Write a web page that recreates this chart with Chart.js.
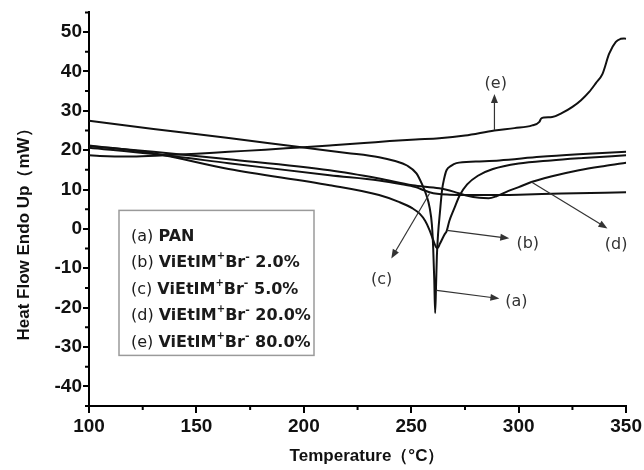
<!DOCTYPE html>
<html>
<head>
<meta charset="utf-8">
<script src="https://cdn.jsdelivr.net/npm/chart.js@4.4.1/dist/chart.umd.min.js"></script>
<style>
  html, body { margin: 0; padding: 0; background: #fff; }
  #marco { width: 644px; height: 470px; }
</style>
</head>
<body>
<div id="marco"><canvas id="dsc" width="644" height="470"></canvas></div>
<script>
// Curvas DSC (temperatura en °C, flujo en mW)
const tempA = [100, 130, 165, 198, 220, 235, 242, 248, 252.4, 255.2, 257, 258.5, 259.6, 260.2, 260.7, 261.1, 261.5, 261.9, 262.5, 263.3, 264.3, 265.3, 266.4, 268.5, 271, 280, 291, 310, 330, 350];
const flowA = [27.5, 25.4, 23.1, 20.8, 19.3, 18.2, 17.3, 16.1, 14.1, 11.1, 8.6, 5.5, 1.0, -5, -13, -21.4, -15, -7, -1, 4, 9.8, 12.8, 14.9, 16.0, 16.7, 17.1, 17.4, 18.3, 19.0, 19.6];

const tempB = [100, 130, 165, 212, 235, 244.5, 250.6, 254, 256.5, 258.5, 260.3, 261.5, 262.2, 263.3, 265.4, 266.5, 267.7, 270, 272.5, 276, 281, 288, 300, 315, 330, 350];
const flowB = [21.2, 19.2, 15.2, 11.1, 8.6, 6.8, 5.2, 3.8, 2.0, -0.3, -3, -4.6, -4.9, -3.8, -1.5, -0.5, 2.0, 5.2, 8.5, 11.3, 13.5, 15.2, 16.6, 17.4, 18.0, 18.7];

const tempC = [100, 130, 165, 212, 235, 245, 252, 256, 258.5, 262, 268, 275, 285, 300, 320, 350];
const flowC = [20.6, 19.0, 16.7, 13.6, 12.3, 11.4, 10.6, 9.8, 9.3, 8.9, 8.7, 8.6, 8.6, 8.7, 9.0, 9.3];

const tempD = [100, 130, 165, 212, 235, 250.6, 263, 270, 275.6, 281.7, 286, 289.6, 295, 300, 305.9, 315, 328, 340, 350];
const flowD = [21.0, 19.6, 17.7, 14.9, 12.8, 11.1, 10.3, 9.4, 8.5, 7.9, 7.8, 8.3, 9.6, 10.6, 11.9, 13.3, 14.9, 16.0, 16.8];

const tempE = [100, 105, 112, 120, 135, 150, 165, 182, 198, 212, 228, 240, 252, 263, 275, 288.7, 298, 306.3, 309.6, 310.4, 311.9, 315.6, 320, 325, 329, 332.8, 336, 339, 342.1, 345.2, 347.5, 349, 350];
const flowE = [18.7, 18.5, 18.4, 18.4, 18.7, 19.1, 19.6, 20.1, 20.7, 21.2, 21.8, 22.3, 22.7, 23.0, 23.7, 25.0, 25.6, 26.3, 27.2, 28.0, 28.3, 28.4, 29.4, 31.0, 32.7, 34.8, 37.1, 39.4, 44.5, 47.5, 48.3, 48.4, 48.3];

// Etiquetas de los ejes
const xLabels = [100, 150, 200, 250, 300, 350];
const yLabels = [-40, -30, -20, -10, 0, 10, 20, 30, 40, 50];

// Leyenda: (x) + nombre; la concentración va junto al catión
const serieTags = ['(a)', '(b)', '(c)', '(d)', '(e)'];
const serieConc = [null, '2.0%', '5.0%', '20.0%', '80.0%'];

// Flechas que señalan cada curva (coordenadas en datos)
const flechaDesde = [[261.8, -15.6], [266.6, -0.4], [258.5, 9.0], [305.9, 11.9], [288.7, 25.1]];
const flechaHasta = [[291.0, -17.7], [295.6, -2.4], [240.7, -7.5], [341.3, 0.1], [288.7, 34.3]];
const flechaTexto = [[298.9, -18.5], [304.2, -3.7], [236.2, -13.0], [345.3, -4.1], [289.3, 36.9]];

const FUENTE = '"DejaVu Sans", sans-serif';
const FUENTE_EJES = '"Liberation Sans", Arial, sans-serif';
const NEGRO = '#111';

function puntos(xs, ys) {
  return xs.map((x, i) => ({ x: x, y: ys[i] }));
}

function serie(nombre, xs, ys) {
  return {
    label: nombre,
    data: puntos(xs, ys),
    borderColor: NEGRO,
    borderWidth: 2,
    pointRadius: 0,
    cubicInterpolationMode: 'monotone',
    fill: false
  };
}

// Marcas menores, flechas con etiqueta y el recuadro de la leyenda
const extras = {
  id: 'extras',
  afterDraw(chart) {
    const { ctx, chartArea: area, scales: { x, y } } = chart;
    ctx.save();

    // marcas menores
    ctx.strokeStyle = '#000';
    ctx.lineWidth = 2;
    ctx.beginPath();
    for (let v = 125; v < 350; v += 50) {
      const px = x.getPixelForValue(v);
      ctx.moveTo(px, area.bottom);
      ctx.lineTo(px, area.bottom + 4);
    }
    for (let v = -45; v <= 55; v += 10) {
      const py = y.getPixelForValue(v);
      ctx.moveTo(area.left - 4, py);
      ctx.lineTo(area.left, py);
    }
    ctx.stroke();

    // flechas
    ctx.strokeStyle = '#333';
    ctx.fillStyle = '#333';
    ctx.lineWidth = 1.2;
    flechaDesde.forEach((desde, i) => {
      const x0 = x.getPixelForValue(desde[0]), y0 = y.getPixelForValue(desde[1]);
      const x1 = x.getPixelForValue(flechaHasta[i][0]), y1 = y.getPixelForValue(flechaHasta[i][1]);
      const ang = Math.atan2(y1 - y0, x1 - x0);
      ctx.beginPath();
      ctx.moveTo(x0, y0);
      ctx.lineTo(x1 - 6 * Math.cos(ang), y1 - 6 * Math.sin(ang));
      ctx.stroke();
      ctx.beginPath();
      ctx.moveTo(x1, y1);
      ctx.lineTo(x1 - 9 * Math.cos(ang) + 3.5 * Math.sin(ang), y1 - 9 * Math.sin(ang) - 3.5 * Math.cos(ang));
      ctx.lineTo(x1 - 9 * Math.cos(ang) - 3.5 * Math.sin(ang), y1 - 9 * Math.sin(ang) + 3.5 * Math.cos(ang));
      ctx.closePath();
      ctx.fill();

      ctx.font = '16px ' + FUENTE;
      ctx.textAlign = 'center';
      ctx.textBaseline = 'middle';
      ctx.fillText(serieTags[i], x.getPixelForValue(flechaTexto[i][0]), y.getPixelForValue(flechaTexto[i][1]));
    });

    // leyenda
    const caja = { left: area.left + 30, top: area.top + 198, width: 195, height: 145 };
    ctx.fillStyle = '#fff';
    ctx.fillRect(caja.left, caja.top, caja.width, caja.height);
    ctx.strokeStyle = '#9a9a9a';
    ctx.lineWidth = 1.5;
    ctx.strokeRect(caja.left, caja.top, caja.width, caja.height);

    ctx.fillStyle = '#1a1a1a';
    ctx.textAlign = 'left';
    ctx.textBaseline = 'middle';
    serieTags.forEach((tag, i) => {
      let cx = caja.left + 12;
      const cy = caja.top + 26 + i * 26.5;
      const trozo = (texto, fuente, dy) => {
        ctx.font = fuente;
        ctx.fillText(texto, cx, cy + (dy || 0));
        cx += ctx.measureText(texto).width;
      };
      trozo(tag + ' ', '16px ' + FUENTE);
      if (!serieConc[i]) {
        trozo('PAN', 'bold 16px ' + FUENTE);
        return;
      }
      trozo('ViEtIM', 'bold 16px ' + FUENTE);
      trozo('+', 'bold 10px ' + FUENTE, -6);
      trozo('Br', 'bold 16px ' + FUENTE);
      trozo('-', 'bold 11px ' + FUENTE, -6);
      trozo(' ' + serieConc[i], 'bold 16px ' + FUENTE);
    });

    ctx.restore();
  }
};

Chart.defaults.font.family = FUENTE_EJES;
Chart.defaults.color = '#111';

new Chart(document.getElementById('dsc'), {
  type: 'line',
  data: {
    datasets: [
      serie('(a) PAN', tempA, flowA),
      serie('(b) ViEtIM+Br- 2.0%', tempB, flowB),
      serie('(c) ViEtIM+Br- 5.0%', tempC, flowC),
      serie('(d) ViEtIM+Br- 20.0%', tempD, flowD),
      serie('(e) ViEtIM+Br- 80.0%', tempE, flowE)
    ]
  },
  options: {
    responsive: false,
    animation: false,
    layout: { padding: { top: 12, right: 17, left: 0, bottom: 0 } },
    plugins: {
      legend: { display: false },
      tooltip: { enabled: false }
    },
    scales: {
      x: {
        type: 'linear',
        min: 100,
        max: 350,
        afterFit: (escala) => { escala.height = 64; },
        border: { display: true, color: '#000', width: 2 },
        grid: {
          drawOnChartArea: false,
          tickLength: 7,
          lineWidth: 2,
          color: (c) => (c.tick && xLabels.includes(c.tick.value)) ? '#000' : 'rgba(0,0,0,0)'
        },
        ticks: {
          stepSize: 25,
          padding: 2,
          maxRotation: 0,
          autoSkip: false,
          font: { size: 19, weight: 'bold' },
          callback: (v) => xLabels.includes(v) ? String(v) : ''
        },
        title: {
          display: true,
          text: '    Temperature（°C）',
          font: { size: 17, weight: 'bold' },
          padding: { top: 4, bottom: 3 }
        }
      },
      y: {
        min: -45,
        max: 55,
        afterFit: (escala) => { escala.width = 89; },
        border: { display: true, color: '#000', width: 2 },
        grid: {
          drawOnChartArea: false,
          tickLength: 6,
          lineWidth: 2,
          color: (c) => (c.tick && yLabels.includes(c.tick.value)) ? '#000' : 'rgba(0,0,0,0)'
        },
        ticks: {
          stepSize: 5,
          padding: 1,
          autoSkip: false,
          font: { size: 19, weight: 'bold' },
          callback: (v) => yLabels.includes(v) ? String(v) : ''
        },
        title: {
          display: true,
          text: 'Heat Flow Endo Up（mW）         ',
          font: { size: 17, weight: 'bold' },
          padding: { top: 14, bottom: 0 }
        }
      }
    }
  },
  plugins: [extras]
});
</script>
</body>
</html>
